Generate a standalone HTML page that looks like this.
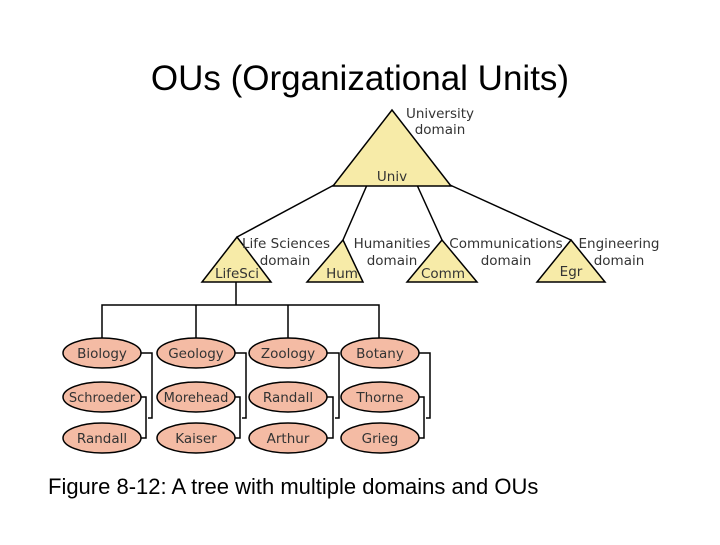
<!DOCTYPE html>
<html><head><style>
body{margin:0;background:#fff;width:720px;height:540px;overflow:hidden;font-family:"Liberation Sans",sans-serif}
</style></head><body>
<svg width="720" height="540" xmlns="http://www.w3.org/2000/svg">
<text x="360" y="90" font-size="35" text-anchor="middle" font-family="Liberation Sans, sans-serif">OUs (Organizational Units)</text>
<text x="48" y="494" font-size="22" font-family="Liberation Sans, sans-serif">Figure 8-12: A tree with multiple domains and OUs</text>
<g stroke="#000" stroke-width="1.5" fill="none">
<line x1="334" y1="185" x2="237" y2="237"/>
<line x1="367" y1="185" x2="343" y2="240"/>
<line x1="417" y1="185" x2="442" y2="240"/>
<line x1="450" y1="185" x2="571" y2="240"/>
<polyline points="236,282 236,305"/>
<polyline points="102,340 102,305 379,305 379,340"/>
<line x1="196" y1="305" x2="196" y2="340"/>
<line x1="288" y1="305" x2="288" y2="340"/>
</g>
<g stroke="#000" stroke-width="1.5" fill="#f7eba8">
<polygon points="392,110 333,186 451,186"/>
<polygon points="237,237 202,282 271,282"/>
<polygon points="343,240 307,282 363,282"/>
<polygon points="442,240 407,282 477,282"/>
<polygon points="571,240 537,282 605,282"/>
</g>
<g font-family="DejaVu Sans, sans-serif" font-size="13.5" fill="#333">
<text x="392" y="181" text-anchor="middle">Univ</text>
<text x="440" y="118" text-anchor="middle">University</text>
<text x="440" y="134" text-anchor="middle">domain</text>
<text x="237" y="278" text-anchor="middle">LifeSci</text>
<text x="342" y="278" text-anchor="middle">Hum</text>
<text x="443" y="278" text-anchor="middle">Comm</text>
<text x="571" y="276" text-anchor="middle">Egr</text>
<text x="286" y="248" text-anchor="middle">Life Sciences</text>
<text x="285" y="265" text-anchor="middle">domain</text>
<text x="392" y="248" text-anchor="middle">Humanities</text>
<text x="392" y="265" text-anchor="middle">domain</text>
<text x="506" y="248" text-anchor="middle">Communications</text>
<text x="506" y="265" text-anchor="middle">domain</text>
<text x="619" y="248" text-anchor="middle">Engineering</text>
<text x="619" y="265" text-anchor="middle">domain</text>
</g>
<g stroke="#000" stroke-width="1.5" fill="none">
<polyline points="141,353 152,353 152,418 148,418"/>
<polyline points="141,397 146,397 146,438 141,438"/>
<polyline points="235,353 246,353 246,418 242,418"/>
<polyline points="235,397 240,397 240,438 235,438"/>
<polyline points="327,353 339,353 339,418 335,418"/>
<polyline points="327,397 333,397 333,438 327,438"/>
<polyline points="419,353 430,353 430,418 426,418"/>
<polyline points="419,397 424,397 424,438 419,438"/>
</g>
<g stroke="#000" stroke-width="1.5" fill="#f4bba4">
<ellipse cx="102" cy="353" rx="39" ry="15"/><ellipse cx="102" cy="397" rx="39" ry="15"/><ellipse cx="102" cy="438" rx="39" ry="15"/>
<ellipse cx="196" cy="353" rx="39" ry="15"/><ellipse cx="196" cy="397" rx="39" ry="15"/><ellipse cx="196" cy="438" rx="39" ry="15"/>
<ellipse cx="288" cy="353" rx="39" ry="15"/><ellipse cx="288" cy="397" rx="39" ry="15"/><ellipse cx="288" cy="438" rx="39" ry="15"/>
<ellipse cx="380" cy="353" rx="39" ry="15"/><ellipse cx="380" cy="397" rx="39" ry="15"/><ellipse cx="380" cy="438" rx="39" ry="15"/>
</g>
<g font-family="DejaVu Sans, sans-serif" font-size="13.5" fill="#333" text-anchor="middle">
<text x="102" y="358">Biology</text><text x="102" y="402" font-size="13">Schroeder</text><text x="102" y="443">Randall</text>
<text x="196" y="358">Geology</text><text x="196" y="402" font-size="13">Morehead</text><text x="196" y="443">Kaiser</text>
<text x="288" y="358">Zoology</text><text x="288" y="402">Randall</text><text x="288" y="443">Arthur</text>
<text x="380" y="358">Botany</text><text x="380" y="402">Thorne</text><text x="380" y="443">Grieg</text>
</g>
</svg>
</body></html>
